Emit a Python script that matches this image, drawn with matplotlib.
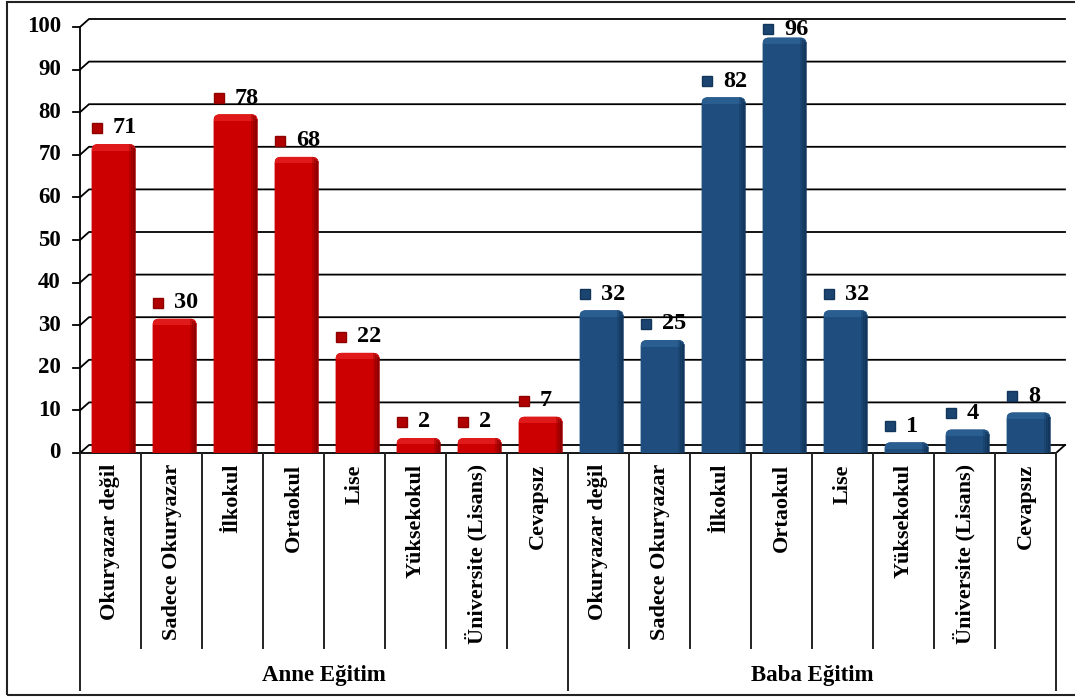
import matplotlib.pyplot as plt
from matplotlib.patches import FancyBboxPatch, Rectangle

kategoriler = ["Okuryazar değil", "Sadece Okuryazar", "İlkokul", "Ortaokul",
               "Lise", "Yüksekokul", "Üniversite (Lisans)", "Cevapsız"]
anne = [71, 30, 78, 68, 22, 2, 2, 7]
baba = [32, 25, 82, 96, 32, 1, 4, 8]
gruplar = ["Anne Eğitim", "Baba Eğitim"]
yticks = list(range(0, 101, 10))

plt.rcParams['font.family'] = ['Liberation Serif', 'DejaVu Serif']
plt.rcParams['font.weight'] = 'bold'

W, H = 1075, 700
fig = plt.figure(figsize=(W / 100, H / 100), dpi=100)
ax = fig.add_axes([80 / W, (H - 453) / H, 976 / W, 426 / H])
n = len(kategoriler) * 2
ax.set_xlim(0, n)
ax.set_ylim(0, 100)
ax.axis('off')

# pixel sizes in data units
PX = 1 / 61
PY = 100 / 426
DX, DY = 9 * PX, 8 * PY

# frame around everything
fig.patches.append(Rectangle((7 / W, 5 / H), 1.1, 693 / H, transform=fig.transFigure,
                             fill=False, ec='#222222', lw=1.5))

# back wall grid + floor
for t in yticks:
    ax.plot([0, DX, n + DX], [t, t + DY, t + DY], color='black', lw=1.3,
            clip_on=False, zorder=1)
    ax.plot([-7 * PX, 0], [t, t], color='black', lw=1.3, clip_on=False)
    ax.text(-19 * PX, t, str(t), ha='right', va='center', fontsize=16.5,
            fontweight='bold')
ax.plot([0, n, n + DX], [0, 0, DY], color='black', lw=1.3, clip_on=False, zorder=1)
ax.plot([0, 0], [0, 100], color='black', lw=1.3, clip_on=False, zorder=1)

# category separators below the axis
for i in range(n + 1):
    alt = -237 * PY if i % 8 == 0 else -195 * PY
    ax.plot([i, i], [0, alt], color='#222222', lw=1.4, clip_on=False)

# front, side shade, top highlight, marker
renkler = [('#CC0000', '#8E0000', '#E01A1A', '#B00000'),
           ('#1F4E7E', '#12355A', '#2A5D90', '#1B4470')]
sx, sy = 0.11, 1.5
ma = PY / PX

for g, degerler in enumerate([anne, baba]):
    on, yan, ust, isaret = renkler[g]
    for j, v in enumerate(degerler):
        c = g * 8 + j + 0.5
        x0, x1 = c - 0.31, c + 0.30
        govde = FancyBboxPatch((x0, -6), x1 - x0 + sx, v + 6 + sy,
                               boxstyle="round,pad=0,rounding_size=0.1",
                               mutation_aspect=ma, fc=on, ec='none', zorder=3)
        ax.add_patch(govde)
        # lit top band
        r = Rectangle((x0, v), x1 - x0 + sx, sy + 1, fc=ust, ec='none', zorder=4)
        ax.add_patch(r)
        r.set_clip_path(govde)
        # shaded right side
        for k, a in enumerate([0.35, 0.6, 0.9]):
            s = Rectangle((x1 + k * sx / 3, -6), sx / 3 + 0.01, v + 6 + sy * (1 - k / 3),
                          fc=yan, ec='none', alpha=a, zorder=4)
            ax.add_patch(s)
            s.set_clip_path(govde)
        # value label with small marker
        ly = min(v + 5.3, 99.5)
        ax.plot(c - 0.22, ly, marker='s', ms=7.5, mfc=isaret, mec=yan, mew=1,
                clip_on=False, zorder=5)
        ax.text(c + 0.04, ly, str(v), ha='left', va='center', fontsize=17.5,
                fontweight='bold', clip_on=False, zorder=5)
        ax.text(c, -11 * PY, kategoriler[j], rotation=90, ha='center', va='top',
                fontsize=16, fontweight='bold')
    ax.text(g * 8 + 4, -222 * PY, gruplar[g], ha='center', va='center',
            fontsize=16.5, fontweight='bold')

fig.savefig('out.png', dpi=100)
